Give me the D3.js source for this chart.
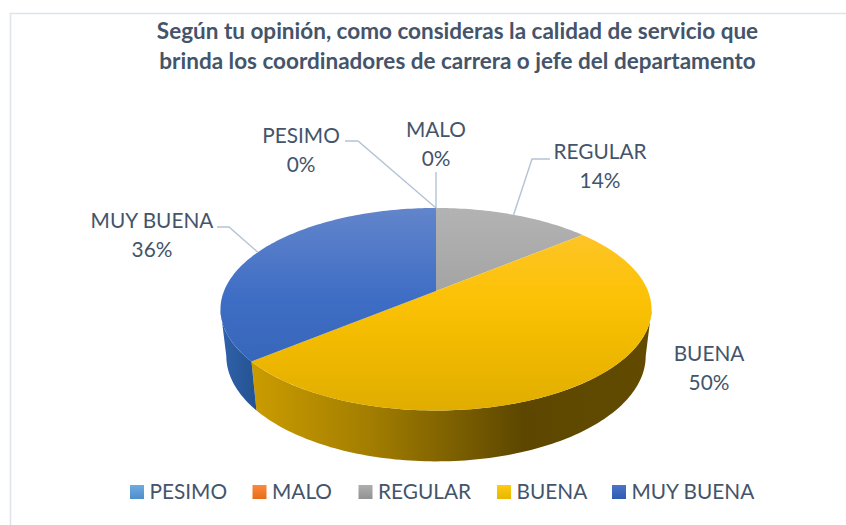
<!DOCTYPE html>
<html lang="es">
<head>
<meta charset="utf-8">
<script src="https://cdn.jsdelivr.net/npm/d3@7/dist/d3.min.js"></script>
<style>
html,body{margin:0;padding:0;background:#fff;overflow:hidden}
svg{display:block}
text{font-family:Lato,"Open Sans",sans-serif;fill:#44546a}
</style>
</head>
<body>
<div id="chart"></div>
<script>
const categories = ["PESIMO", "MALO", "REGULAR", "BUENA", "MUY BUENA"];
const values = [0, 0, 14, 50, 36];
const titleLines = [
  "Según tu opinión, como consideras la calidad de servicio que",
  "brinda los coordinadores de carrera o jefe del departamento"
];
const swatchStops = [["#6fabe2","#4f8ecb"],["#fb8a3e","#e76d17"],["#aeaeae","#929292"],["#ffcc12","#e8b500"],["#4c74c9","#2e5cae"]];
const topStops = [
  null, null,
  [[0,"#b3b3b3"],[1,"#8e8e8e"]],
  [[0,"#ffc535"],[0.42,"#fcc208"],[0.62,"#f4bc00"],[1,"#e0ad00"]],
  [[0,"#6285cb"],[0.45,"#3e6dc5"],[1,"#3161b0"]]
];

const W = 846, H = 525;
// Perspective of the pie disc
const cx = 436, cy = 291, a = 212, b = 98, k = 0.18;
const botCy = 337, botB = 102, botS = 0.973;

const svg = d3.select("#chart").append("svg").attr("width", W).attr("height", H);
const defs = svg.append("defs");

// Frame: runs past the window on the right and bottom
svg.append("path").attr("d", `M10.5,${H} V13.5 H${W}`)
  .attr("fill", "none").attr("stroke", "#dfe3ea").attr("stroke-width", 1.6);

const pie = d3.pie().sort(null).value(d => d).startAngle(0).endAngle(2 * Math.PI);
const slices = pie(values);

function project(t, bottom) {
  const u = Math.sin(t), v = -Math.cos(t), w = 1 - k * v;
  return bottom
    ? [cx + botS * a * u / w, botCy + botB * v / w]
    : [cx + a * u / w, cy + b * v / w];
}
function arcPoints(t0, t1, bottom) {
  const n = Math.max(2, Math.ceil((t1 - t0) / 0.02));
  return d3.range(n + 1).map(i => project(t0 + (t1 - t0) * i / n, bottom));
}
const line = d3.line();

function gradient(id, stops, x1, y1, x2, y2) {
  const g = defs.append("linearGradient").attr("id", id)
    .attr("gradientUnits", "userSpaceOnUse")
    .attr("x1", x1).attr("y1", y1).attr("x2", x2).attr("y2", y2);
  stops.forEach(s => g.append("stop").attr("offset", s[0]).attr("stop-color", s[1]));
}

// Side walls: between the two silhouette points of the disc
const front0 = Math.acos(-k), front1 = 2 * Math.PI - front0;
gradient("wall3", [[0,"#cb9c00"],[0.3,"#a27d00"],[0.68,"#5d4700"],[1,"#624b00"]], 252, 0, 650, 0);
gradient("wall4", [[0,"#2f60a8"],[1,"#24528f"]], 225, 0, 258, 0);
slices.forEach((s, i) => {
  const t0 = Math.max(s.startAngle, front0), t1 = Math.min(s.endAngle, front1);
  if (t1 <= t0 || s.value === 0) return;
  const pts = arcPoints(t0, t1, false).concat(arcPoints(t0, t1, true).reverse());
  svg.append("path").attr("d", line(pts) + "Z").attr("fill", `url(#wall${i})`);
});

// Top surface
slices.forEach((s, i) => {
  if (s.value === 0) return;
  gradient("top" + i, topStops[i], 0, 208, 0, 411);
  const pts = [[cx, cy]].concat(arcPoints(s.startAngle, s.endAngle, false));
  svg.append("path").attr("d", line(pts) + "Z").attr("fill", `url(#top${i})`);
});

// Title
svg.append("g").selectAll("text").data(titleLines).join("text")
  .attr("x", 457.5).attr("y", (d, i) => 39 + i * 30)
  .attr("text-anchor", "middle")
  .attr("font-size", 22.5).attr("font-weight", 700)
  .text(d => d);

// Data labels and leaders
const labelLayout = [
  {x: 301, y: 143, leader: [[345, 141], [358, 141]]},
  {x: 436, y: 137, leader: [[436, 172]]},
  {x: 600, y: 159, leader: [[550, 159], [532, 159]]},
  {x: 709, y: 361, leader: null},
  {x: 152, y: 228, leader: [[217, 227], [229, 227]]}
];
slices.forEach((s, i) => {
  const l = labelLayout[i];
  if (l.leader) {
    const anchor = project((s.startAngle + s.endAngle) / 2, false);
    svg.append("path").attr("d", line(l.leader.concat([anchor])))
      .attr("fill", "none").attr("stroke", "#b4c3d6").attr("stroke-width", 1.4);
  }
  const t = svg.append("text").attr("text-anchor", "middle").attr("font-size", 20.8);
  t.append("tspan").attr("x", l.x).attr("y", l.y).text(categories[i]);
  t.append("tspan").attr("x", l.x).attr("y", l.y + 29).text(values[i] + "%");
});

// Legend
const legendX = [130, 252.5, 358.5, 497, 612];
categories.forEach((c, i) => {
  gradient("sw" + i, [[0, swatchStops[i][0]], [1, swatchStops[i][1]]], 0, 485, 0, 499);
  svg.append("rect").attr("x", legendX[i]).attr("y", 485).attr("width", 14).attr("height", 14)
    .attr("fill", `url(#sw${i})`);
  svg.append("text").attr("x", legendX[i] + 19.5).attr("y", 499).attr("font-size", 20.8).text(c);
});
</script>
</body>
</html>
